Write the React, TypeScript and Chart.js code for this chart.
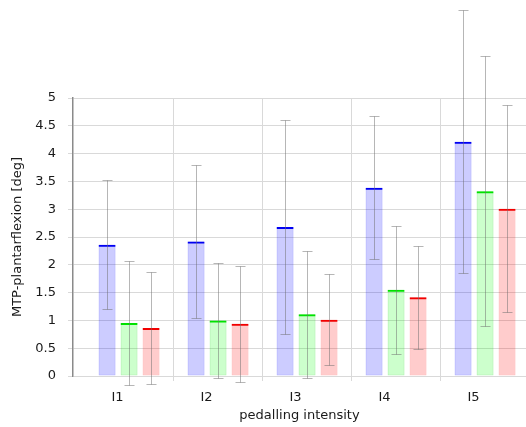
import React, { useEffect, useRef } from "react";
import { Chart, registerables } from "chart.js";

Chart.register(...registerables);

// ---- data ----
const CATEGORIES = ["I1", "I2", "I3", "I4", "I5"];
const Y_TICKS = [0, 0.5, 1, 1.5, 2, 2.5, 3, 3.5, 4, 4.5, 5];

const MEAN_BLUE = [2.36, 2.42, 2.68, 3.385, 4.215];
const SD_BLUE = [1.16, 1.37, 1.93, 1.285, 2.36];
const MEAN_GREEN = [0.955, 1.0, 1.11, 1.55, 3.325];
const SD_GREEN = [1.11, 1.03, 1.14, 1.15, 2.43];
const MEAN_RED = [0.865, 0.94, 1.01, 1.415, 3.01];
const SD_RED = [1.01, 1.04, 0.82, 0.925, 1.86];

// ---- layout / style ----
const W = 526;
const H = 427;
const X_MIN = 0.5;
const X_MAX = 0.5 + 453 / 89;
const GROUP_SHIFT = 0.13;
const GRID_SHIFT = 0.624;
const FONT = { family: "DejaVu Sans", size: 13 };
const TEXT = "#1a1a1a";
const GRID = "#d9d9d9";
const ERR = "rgba(110,110,110,0.5)";

const SERIES = [
  { key: "b", mean: MEAN_BLUE, sd: SD_BLUE, fill: "rgba(0,0,255,0.2)", side: "rgba(0,0,255,0.3)", top: "#0000ee" },
  { key: "g", mean: MEAN_GREEN, sd: SD_GREEN, fill: "rgba(0,255,0,0.2)", side: "rgba(0,220,0,0.3)", top: "#00e000" },
  { key: "r", mean: MEAN_RED, sd: SD_RED, fill: "rgba(255,0,0,0.2)", side: "rgba(255,0,0,0.25)", top: "#ee0000" },
];

const errorBarPlugin = {
  id: "errorBars",
  afterDatasetsDraw(chart: any) {
    const ctx = chart.ctx;
    const ys = chart.scales.y;
    ctx.save();
    ctx.strokeStyle = ERR;
    ctx.lineWidth = 1;
    chart.data.datasets.forEach((ds: any, di: number) => {
      if (!ds.errors) return;
      const meta = chart.getDatasetMeta(di);
      meta.data.forEach((bar: any, i: number) => {
        const m = ds.data[i].y;
        const e = ds.errors[i];
        const x = Math.round(bar.x) + 0.5;
        const yt = Math.round(ys.getPixelForValue(m + e)) + 0.5;
        const yb = Math.round(ys.getPixelForValue(m - e)) + 0.5;
        ctx.beginPath();
        ctx.moveTo(x, yt);
        ctx.lineTo(x, yb);
        ctx.moveTo(x - 5, yt);
        ctx.lineTo(x + 5, yt);
        ctx.moveTo(x - 5, yb);
        ctx.lineTo(x + 5, yb);
        ctx.stroke();
      });
    });
    ctx.restore();
  },
};

export default function App() {
  const ref = useRef<HTMLCanvasElement | null>(null);

  useEffect(() => {
    if (!ref.current) return;
    const datasets: any[] = [];
    SERIES.forEach((s) => {
      const pts = s.mean.map((v, i) => ({ x: i + 1 + GROUP_SHIFT, y: v }));
      datasets.push({
        label: s.key,
        stack: s.key,
        data: pts,
        errors: s.sd,
        backgroundColor: s.fill,
        borderColor: s.side,
        borderWidth: 1,
        borderSkipped: false,
      });
      datasets.push({
        label: s.key + "-top",
        stack: s.key,
        data: pts.map((p) => ({ ...p })),
        backgroundColor: "rgba(0,0,0,0)",
        borderColor: s.top,
        borderWidth: { top: 2, left: 0, right: 0, bottom: 0 },
        borderSkipped: false,
      });
    });

    const chart = new Chart(ref.current, {
      type: "bar",
      data: { datasets },
      plugins: [errorBarPlugin],
      options: {
        responsive: false,
        animation: false,
        events: [],
        categoryPercentage: 66 / 89,
        barPercentage: 17 / 22,
        layout: { padding: { top: 98, left: 0, right: 0, bottom: 0 } },
        plugins: { legend: { display: false }, tooltip: { enabled: false } },
        scales: {
          x: {
            type: "linear",
            position: "bottom",
            weight: 1,
            min: X_MIN,
            max: X_MAX,
            offset: false,
            afterBuildTicks: (s: any) => {
              s.ticks = CATEGORIES.map((_, i) => ({ value: i + 1 }));
            },
            afterFit: (s: any) => {
              s.height = 51;
            },
            grid: { display: false, drawTicks: false, offset: false },
            border: { display: false },
            ticks: {
              padding: 14,
              color: TEXT,
              font: FONT,
              autoSkip: false,
              maxRotation: 0,
              callback: (v: any) => CATEGORIES[Math.round(v) - 1] ?? "",
            },
            title: {
              display: true,
              text: "pedalling intensity",
              color: TEXT,
              font: FONT,
              padding: { top: 0, bottom: 4 },
            },
          },
          x2: {
            type: "linear",
            axis: "x",
            position: "bottom",
            weight: 0,
            min: X_MIN,
            max: X_MAX,
            offset: false,
            afterBuildTicks: (s: any) => {
              s.ticks = CATEGORIES.map((_, i) => ({ value: i + 1 + GRID_SHIFT })).filter((t) => t.value <= X_MAX);
            },
            afterFit: (s: any) => {
              s.height = 0;
            },
            grid: { color: GRID, tickLength: 5, offset: false },
            border: { display: false },
            ticks: { display: false },
          },
          y: {
            type: "linear",
            min: 0,
            max: 5,
            stacked: false,
            afterBuildTicks: (s: any) => {
              s.ticks = Y_TICKS.map((v) => ({ value: v }));
            },
            afterFit: (s: any) => {
              s.width = 73;
            },
            grid: { color: GRID, tickLength: 5 },
            border: { display: true, color: "#8a8a8a", width: 1.5 },
            ticks: {
              padding: 12,
              color: TEXT,
              font: FONT,
              callback: (v: any) => String(v),
            },
            title: {
              display: true,
              text: "MTP-plantarflexion [deg]",
              color: TEXT,
              font: FONT,
              padding: { top: 10, bottom: 0 },
            },
          },
        },
      } as any,
    });
    return () => chart.destroy();
  }, []);

  return (
    <div style={{ position: "fixed", left: 0, top: 0, width: W, height: H, background: "#fff" }}>
      <canvas ref={ref} width={W} height={H} style={{ display: "block", width: W, height: H }} />
    </div>
  );
}
